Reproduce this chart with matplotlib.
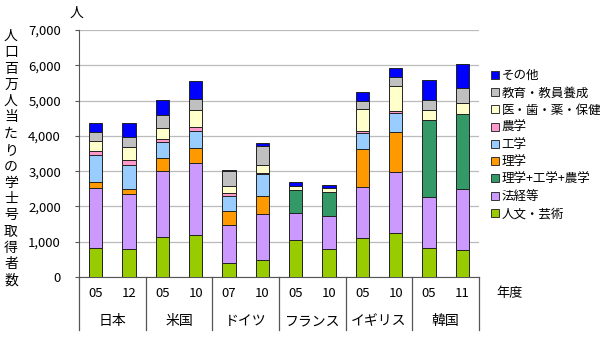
import matplotlib
matplotlib.use('Agg')
import matplotlib.pyplot as plt
from matplotlib.lines import Line2D
import numpy as np

plt.rcParams['font.family'] = ['Noto Sans CJK JP', 'DejaVu Sans']
plt.rcParams['font.size'] = 9

# 国・年度
countries = ['日本', '米国', 'ドイツ', 'フランス', 'イギリス', '韓国']
years = ['05', '12', '05', '10', '07', '10', '05', '10', '05', '10', '05', '11']

# 分野別（人口百万人当たり）下から積み上げ順
jinbun    = [830, 800, 1140, 1200, 405, 490, 1055, 800, 1105, 1255, 810, 755]
hokei     = [1700, 1560, 1860, 2035, 1075, 1295, 765, 935, 1450, 1725, 1455, 1745]
rikoun    = [0, 0, 0, 0, 0, 0, 650, 660, 0, 0, 2195, 2120]
rigaku    = [170, 140, 360, 435, 380, 500, 0, 0, 1085, 1125, 0, 0]
kogaku    = [760, 680, 470, 480, 440, 620, 0, 0, 445, 545, 0, 0]
nogaku    = [125, 140, 85, 95, 80, 55, 0, 0, 55, 55, 0, 0]
iryo      = [275, 370, 310, 475, 185, 220, 115, 125, 635, 710, 275, 315]
kyoiku    = [245, 290, 370, 330, 425, 535, 0, 0, 205, 265, 295, 430]
sonota    = [265, 390, 435, 500, 30, 75, 115, 85, 275, 255, 555, 660]

series = [
    ('人文・芸術', jinbun, '#99CC00'),
    ('法経等', hokei, '#CC99FF'),
    ('理学+工学+農学', rikoun, '#339966'),
    ('理学', rigaku, '#FF9900'),
    ('工学', kogaku, '#99CCFF'),
    ('農学', nogaku, '#FF99CC'),
    ('医・歯・薬・保健', iryo, '#FFFFCC'),
    ('教育・教員養成', kyoiku, '#C0C0C0'),
    ('その他', sonota, '#0000FF'),
]

fig = plt.figure(figsize=(6, 3.6), dpi=100)
ax = fig.add_axes([79/600, 1 - 277/360, 400/600, 247/360])

x = np.arange(len(years))
bottom = np.zeros(len(years))
for name, vals, col in series:
    vals = np.array(vals, dtype=float)
    ax.bar(x, vals, 0.4, bottom=bottom, color=col, edgecolor='#222222',
           linewidth=0.7, zorder=3)
    bottom += vals

ax.set_xlim(-0.5, len(years) - 0.5)
ax.set_ylim(0, 7000)
ax.set_yticks(np.arange(0, 7001, 1000))
ax.set_yticklabels([f'{v:,}' for v in range(0, 7001, 1000)], fontsize=9.5)
ax.yaxis.grid(True, color='#BBBBBB', linewidth=0.9, zorder=0)
ax.set_xticks([])
for s in ['top', 'right']:
    ax.spines[s].set_visible(False)
ax.spines['left'].set_color('#555555')
ax.spines['bottom'].set_color('#555555')
ax.tick_params(axis='y', length=3, color='#555555', pad=10)

# 下部の年度・国ラベル
trans = ax.get_xaxis_transform()
for i, y in enumerate(years):
    ax.text(i, -0.065, y, transform=trans, ha='center', va='center', fontsize=9.5)
for k, c in enumerate(countries):
    ax.text(2*k + 0.5, -0.178, c, transform=trans, ha='center', va='center', fontsize=10)
for k in range(len(countries) + 1):
    ax.plot([2*k - 0.5, 2*k - 0.5], [0, -0.215], transform=trans, color='#555555',
            linewidth=0.9, clip_on=False)
fig.text(510/600, 1 - 293/360, '年度', ha='center', va='center', fontsize=9.5)

# 単位・縦軸ラベル
fig.text(77/600, 1 - 13/360, '人', ha='center', va='center', fontsize=10)
ylab = '人口百万人当たりの学士号取得者数'
for j, ch in enumerate(ylab):
    fig.text(11/600, 1 - (36 + j*16.3)/360, ch, ha='center', va='center', fontsize=10)

# 凡例
handles = [Line2D([], [], marker='s', linestyle='', markersize=5.5,
                  markerfacecolor=col, markeredgecolor='#333333', markeredgewidth=0.7)
           for name, vals, col in series[::-1]]
labels = [name for name, vals, col in series[::-1]]
fig.legend(handles, labels, loc='upper left', bbox_to_anchor=(486/600, 1 - 63/360),
           frameon=False, handlelength=0.5, handletextpad=0.25, labelspacing=0.34,
           borderpad=0, fontsize=9)

plt.savefig('out.png', dpi=100, facecolor='white')
plt.close()
